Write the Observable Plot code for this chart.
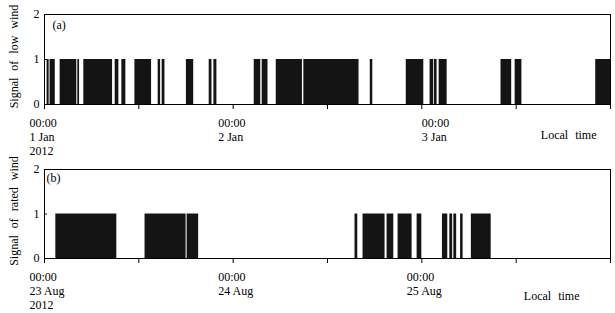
<!DOCTYPE html>
<html>
<head>
<meta charset="utf-8">
<script src="https://cdn.jsdelivr.net/npm/d3@7"></script>
<script src="https://cdn.jsdelivr.net/npm/@observablehq/plot@0.6"></script>
<style>
  html, body { margin: 0; padding: 0; background: #fff; }
  #chart svg { display: block; }
</style>
</head>
<body>
<div id="chart"></div>
<script>
// ---- Data (hours after 00:00 of the first day) ----
const lowStartHour = [0.33, 0.71, 1.99, 4.24, 5.0, 8.99, 9.84, 11.5, 14.46, 14.97, 18.05, 20.95, 21.55, 26.68, 27.69, 29.48, 32.99, 41.44, 46.02, 49.05, 49.6, 50.2, 58.07, 59.87, 70.12];
const lowEndHour   = [0.59, 1.37, 4.11, 4.46, 8.66, 9.46, 10.35, 13.62, 14.77, 15.32, 18.98, 21.3, 21.93, 27.51, 28.43, 32.81, 40.01, 41.76, 48.25, 49.5, 49.94, 51.22, 59.43, 60.73, 72];

const ratedStartHour = [1.44, 12.79, 18.14, 39.5, 40.52, 43.58, 44.98, 47.4, 50.62, 51.56, 52.07, 52.93, 54.3];
const ratedEndHour   = [9.2, 18.01, 19.61, 39.85, 43.32, 44.43, 46.76, 48.0, 51.3, 51.92, 52.43, 53.25, 56.82];

const lowStartDate = "2012-01-01T00:00Z";
const ratedStartDate = "2012-08-23T00:00Z";
const spanHours = 72;
const tickHours = [0, 12, 24, 36, 48, 60, 72];
const labelHours = [0, 24, 48];
const lowTickLabels = ["00:00\n1 Jan\n2012", "00:00\n2 Jan", "00:00\n3 Jan"];
const ratedTickLabels = ["00:00\n23 Aug\n2012", "00:00\n24 Aug", "00:00\n25 Aug"];
const yTicks = [0, 1, 2];
const lowTitle = "Signal of low wind";
const ratedTitle = "Signal of rated wind";
const xTitle = "Local time";

const H = 3600e3;
const FONT = "'Liberation Serif', 'Times New Roman', serif";

function panel({start, starts, ends, labels, title, tag, height, marginTop, marginBottom, lastLabelDx, tagDx, tagDy, xTitleDx, xTitleDy}) {
  const base = new Date(start).getTime();
  const bars = starts.map((s, i) => ({x1: new Date(base + s * H), x2: new Date(base + ends[i] * H), signal: 1}));
  const ticks = tickHours.map(h => new Date(base + h * H));
  const lab = labelHours.map((h, i) => ({date: new Date(base + h * H), text: labels[i]}));
  const labA = lab.filter((d, i) => !(lastLabelDx !== null && i === lab.length - 1));
  const labB = lastLabelDx !== null ? lab.slice(-1) : [];
  return Plot.plot({
    width: 615,
    height,
    marginLeft: 44,
    marginRight: 5,
    marginTop,
    marginBottom,
    style: {fontFamily: FONT, fontSize: "12px", color: "#000", background: "#fff"},
    x: {type: "utc", domain: [new Date(base), new Date(base + spanHours * H)], ticks, tickSize: 5, tickFormat: () => "", label: null},
    y: {domain: [0, 2], ticks: yTicks, tickSize: -3, tickPadding: 8, tickFormat: d3.format("d"), label: null},
    marks: [
      Plot.rect(bars, {x1: "x1", x2: "x2", y1: d => 0, y2: "signal", fill: "#141414"}),
      Plot.frame({stroke: "#000"}),
      Plot.text(labA, {x: "date", text: "text", frameAnchor: "bottom", textAnchor: "start", lineAnchor: "top", dx: -15, dy: 13, lineHeight: 1.15, fontSize: 12}),
      Plot.text(labB, {x: "date", text: "text", frameAnchor: "bottom", textAnchor: "start", lineAnchor: "top", dx: lastLabelDx ?? 0, dy: 13, lineHeight: 1.15, fontSize: 12}),
      Plot.text([xTitle], {frameAnchor: "bottom-right", textAnchor: "end", lineAnchor: "middle", dx: xTitleDx, dy: xTitleDy, fontSize: 12}),
      Plot.text([title], {frameAnchor: "left", rotate: -90, textAnchor: "middle", lineAnchor: "middle", dx: -30, dy: -3, fontSize: 12}),
      Plot.text([tag], {frameAnchor: "top-left", textAnchor: "start", lineAnchor: "middle", dx: tagDx, dy: tagDy, fontSize: 12})
    ]
  });
}

const chart = document.getElementById("chart");
chart.append(panel({
  start: lowStartDate, starts: lowStartHour, ends: lowEndHour, labels: lowTickLabels,
  title: lowTitle, tag: "(a)", height: 157, marginTop: 14, marginBottom: 53,
  lastLabelDx: 0, tagDx: 8, tagDy: 11, xTitleDx: -14, xTitleDy: 31
}));
chart.append(panel({
  start: ratedStartDate, starts: ratedStartHour, ends: ratedEndHour, labels: ratedTickLabels,
  title: ratedTitle, tag: "(b)", height: 156, marginTop: 12, marginBottom: 55,
  lastLabelDx: null, tagDx: 2, tagDy: 9, xTitleDx: -31, xTitleDy: 38
}));
// wide word spacing for the axis titles, as in the reference
chart.querySelectorAll("text").forEach(t => { if (/Local|Signal/.test(t.textContent)) t.style.wordSpacing = "4px"; });
</script>
</body>
</html>
